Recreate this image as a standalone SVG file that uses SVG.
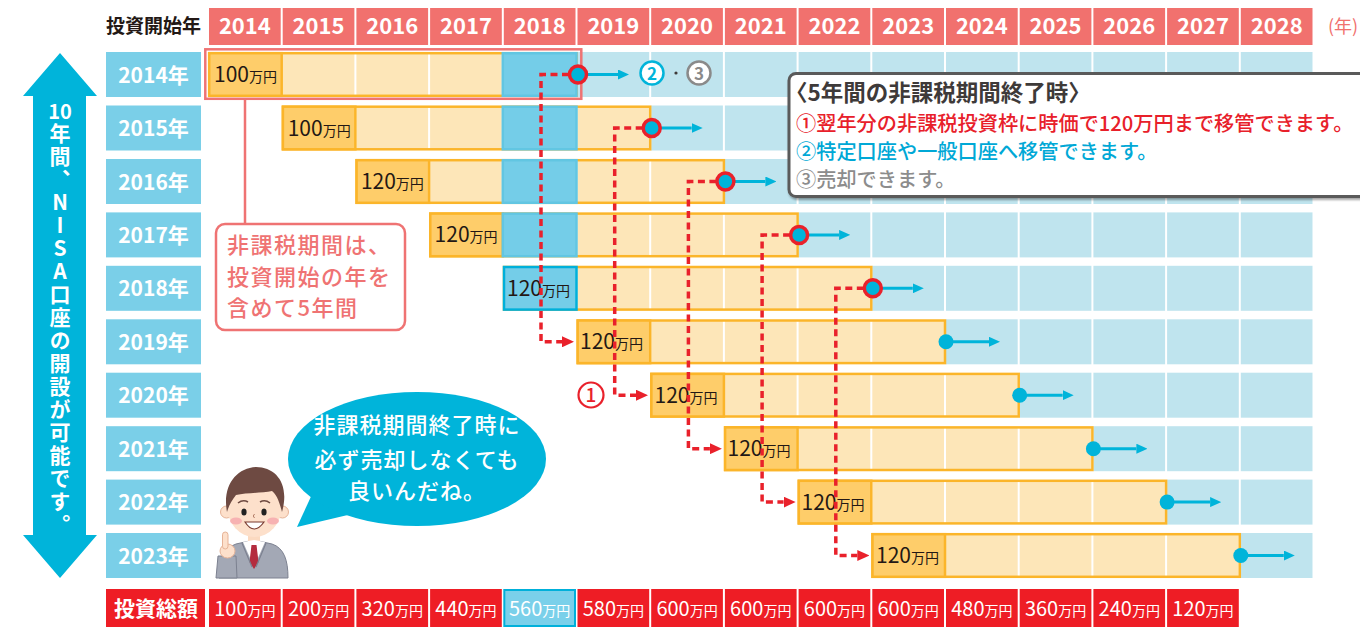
<svg xmlns="http://www.w3.org/2000/svg" width="1360" height="628" viewBox="0 0 1360 628">
<defs>
<style>
text{font-family:"Noto Sans CJK JP","Noto Sans",sans-serif}
.hd{fill:#f1716e}
.hdt{font-size:22px;font-weight:700;fill:#fff;text-anchor:middle}
.rl{fill:#7acfe8}
.rlt{font-size:21px;font-weight:700;fill:#fff;text-anchor:middle}
.bg{fill:url(#bgCells)}
.bar{fill:url(#barCells);stroke:#fbb52a;stroke-width:2.5}
.first{fill:#fecd6a;stroke:#fbb52a;stroke-width:2.5}
.blue{fill:#74cde8;stroke:#62c6e2;stroke-width:2.5}
.blue2{fill:#74cde8;stroke:#00b0da;stroke-width:2.5}
.amt{font-size:21px;fill:#231815}
.unit{font-size:14px}
.tot{fill:#ee1d25}
.tott{font-size:20px;fill:#fff;text-anchor:middle}
.dash{fill:none;stroke:#e9212b;stroke-width:3.5;stroke-dasharray:7 4.5}
.ring{fill:#00b4da;stroke:#e9212b;stroke-width:3.5}
.dot{fill:#00b4da}
.cyl{stroke:#00b4da;stroke-width:3;fill:none}
.vt{font-size:21px;font-weight:700;fill:#fff;writing-mode:vertical-rl;text-orientation:upright;letter-spacing:2px}
.skin{fill:#fde0cb;stroke:#e6b397;stroke-width:1}
.lg{font-size:20.2px;font-weight:500}
</style>
<pattern id="bgCells" patternUnits="userSpaceOnUse" x="207" y="0" width="73.7" height="628">
<rect width="73.7" height="628" fill="#bfe4ee"/>
<rect width="2" height="628" fill="#fff"/>
</pattern>
<pattern id="barCells" patternUnits="userSpaceOnUse" x="207" y="0" width="73.7" height="628">
<rect width="73.7" height="628" fill="#fde6b8"/>
<rect width="2" height="628" fill="#fff"/>
</pattern>
<marker id="redHead" markerUnits="userSpaceOnUse" viewBox="0 0 12 11" markerWidth="12" markerHeight="11" refX="0" refY="5.5" orient="auto">
<path d="M0 0L12 5.5L0 11Z" fill="#e9212b"/>
</marker>
<marker id="cyanHead" markerUnits="userSpaceOnUse" viewBox="0 0 11 10" markerWidth="11" markerHeight="10" refX="0" refY="5" orient="auto">
<path d="M0 0L11 5L0 10Z" fill="#00b4da"/>
</marker>
<filter id="shadow" x="-5%" y="-10%" width="110%" height="130%">
<feDropShadow dx="1" dy="2" stdDeviation="1.2" flood-color="#000" flood-opacity="0.35"/>
</filter>
</defs>

<rect width="1360" height="628" fill="#fff"/>

<!-- year header -->
<g id="header">
<text x="153.5" y="33" font-size="19" font-weight="700" fill="#231815" text-anchor="middle">投資開始年</text>
<rect class="hd" x="209" y="8" width="71.7" height="37"/><text class="hdt" x="244.85" y="34">2014</text>
<rect class="hd" x="282.7" y="8" width="71.7" height="37"/><text class="hdt" x="318.55" y="34">2015</text>
<rect class="hd" x="356.4" y="8" width="71.7" height="37"/><text class="hdt" x="392.25" y="34">2016</text>
<rect class="hd" x="430.1" y="8" width="71.7" height="37"/><text class="hdt" x="465.95" y="34">2017</text>
<rect class="hd" x="503.8" y="8" width="71.7" height="37"/><text class="hdt" x="539.65" y="34">2018</text>
<rect class="hd" x="577.5" y="8" width="71.7" height="37"/><text class="hdt" x="613.35" y="34">2019</text>
<rect class="hd" x="651.2" y="8" width="71.7" height="37"/><text class="hdt" x="687.05" y="34">2020</text>
<rect class="hd" x="724.9" y="8" width="71.7" height="37"/><text class="hdt" x="760.75" y="34">2021</text>
<rect class="hd" x="798.6" y="8" width="71.7" height="37"/><text class="hdt" x="834.45" y="34">2022</text>
<rect class="hd" x="872.3" y="8" width="71.7" height="37"/><text class="hdt" x="908.15" y="34">2023</text>
<rect class="hd" x="946" y="8" width="71.7" height="37"/><text class="hdt" x="981.85" y="34">2024</text>
<rect class="hd" x="1019.7" y="8" width="71.7" height="37"/><text class="hdt" x="1055.55" y="34">2025</text>
<rect class="hd" x="1093.4" y="8" width="71.7" height="37"/><text class="hdt" x="1129.25" y="34">2026</text>
<rect class="hd" x="1167.1" y="8" width="71.7" height="37"/><text class="hdt" x="1202.95" y="34">2027</text>
<rect class="hd" x="1240.8" y="8" width="71.7" height="37"/><text class="hdt" x="1276.65" y="34">2028</text>
<text x="1343" y="33" font-size="18" fill="#f1716e" text-anchor="middle">(年)</text>
</g>

<!-- one row per starting year: label, remaining years, 5-year bar -->
<g id="row-2014">
<rect class="rl" x="106" y="52" width="95" height="45"/><text class="rlt" x="153.5" y="82.5">2014年</text>
<rect class="bg" x="576.5" y="52" width="737" height="45"/>
<rect class="bar" x="209.2" y="53.2" width="367.3" height="42.6"/>
<rect class="first" x="209.2" y="53.2" width="72.5" height="42.6"/>
<rect class="blue" x="502.8" y="53.2" width="73.7" height="42.6"/>
<text class="amt" x="214" y="82">100<tspan class="unit">万円</tspan></text>
</g>
<g id="row-2015">
<rect class="rl" x="106" y="105.5" width="95" height="45"/><text class="rlt" x="153.5" y="136">2015年</text>
<rect class="bg" x="650.2" y="105.5" width="663.3" height="45"/>
<rect class="bar" x="282.9" y="106.7" width="367.3" height="42.6"/>
<rect class="first" x="282.9" y="106.7" width="72.5" height="42.6"/>
<rect class="blue" x="502.8" y="106.7" width="73.7" height="42.6"/>
<text class="amt" x="287.7" y="135.5">100<tspan class="unit">万円</tspan></text>
</g>
<g id="row-2016">
<rect class="rl" x="106" y="159" width="95" height="45"/><text class="rlt" x="153.5" y="189.5">2016年</text>
<rect class="bg" x="723.9" y="159" width="589.6" height="45"/>
<rect class="bar" x="356.6" y="160.2" width="367.3" height="42.6"/>
<rect class="first" x="356.6" y="160.2" width="72.5" height="42.6"/>
<rect class="blue" x="502.8" y="160.2" width="73.7" height="42.6"/>
<text class="amt" x="360.9" y="189">120<tspan class="unit">万円</tspan></text>
</g>
<g id="row-2017">
<rect class="rl" x="106" y="212.4" width="95" height="45"/><text class="rlt" x="153.5" y="242.9">2017年</text>
<rect class="bg" x="797.6" y="212.4" width="515.9" height="45"/>
<rect class="bar" x="430.3" y="213.6" width="367.3" height="42.6"/>
<rect class="first" x="430.3" y="213.6" width="72.5" height="42.6"/>
<rect class="blue" x="502.8" y="213.6" width="73.7" height="42.6"/>
<text class="amt" x="434.6" y="242.4">120<tspan class="unit">万円</tspan></text>
</g>
<g id="row-2018">
<rect class="rl" x="106" y="265.8" width="95" height="45"/><text class="rlt" x="153.5" y="296.3">2018年</text>
<rect class="bg" x="871.3" y="265.8" width="442.2" height="45"/>
<rect class="bar" x="504" y="267" width="367.3" height="42.6"/>
<rect class="blue2" x="504" y="267" width="72.5" height="42.6"/>
<text class="amt" x="507" y="295.8">120<tspan class="unit">万円</tspan></text>
</g>
<g id="row-2019">
<rect class="rl" x="106" y="319.3" width="95" height="45"/><text class="rlt" x="153.5" y="349.8">2019年</text>
<rect class="bg" x="945" y="319.3" width="368.5" height="45"/>
<rect class="bar" x="577.7" y="320.5" width="367.3" height="42.6"/>
<rect class="first" x="577.7" y="320.5" width="72.5" height="42.6"/>
<text class="amt" x="580" y="349.3">120<tspan class="unit">万円</tspan></text>
</g>
<g id="row-2020">
<rect class="rl" x="106" y="372.7" width="95" height="45"/><text class="rlt" x="153.5" y="403.2">2020年</text>
<rect class="bg" x="1018.7" y="372.7" width="294.8" height="45"/>
<rect class="bar" x="651.4" y="373.9" width="367.3" height="42.6"/>
<rect class="first" x="651.4" y="373.9" width="72.5" height="42.6"/>
<text class="amt" x="654.5" y="402.7">120<tspan class="unit">万円</tspan></text>
</g>
<g id="row-2021">
<rect class="rl" x="106" y="426.2" width="95" height="45"/><text class="rlt" x="153.5" y="456.7">2021年</text>
<rect class="bg" x="1092.4" y="426.2" width="221.1" height="45"/>
<rect class="bar" x="725.1" y="427.4" width="367.3" height="42.6"/>
<rect class="first" x="725.1" y="427.4" width="72.5" height="42.6"/>
<text class="amt" x="727.5" y="456.2">120<tspan class="unit">万円</tspan></text>
</g>
<g id="row-2022">
<rect class="rl" x="106" y="479.6" width="95" height="45"/><text class="rlt" x="153.5" y="510.1">2022年</text>
<rect class="bg" x="1166.1" y="479.6" width="147.4" height="45"/>
<rect class="bar" x="798.8" y="480.8" width="367.3" height="42.6"/>
<rect class="first" x="798.8" y="480.8" width="72.5" height="42.6"/>
<text class="amt" x="801.5" y="509.6">120<tspan class="unit">万円</tspan></text>
</g>
<g id="row-2023">
<rect class="rl" x="106" y="533" width="95" height="45"/><text class="rlt" x="153.5" y="563.5">2023年</text>
<rect class="bg" x="1239.8" y="533" width="73.7" height="45"/>
<rect class="bar" x="872.5" y="534.2" width="367.3" height="42.6"/>
<rect class="first" x="872.5" y="534.2" width="72.5" height="42.6"/>
<text class="amt" x="876" y="563">120<tspan class="unit">万円</tspan></text>
</g>

<!-- 5-year note tied to the 2014 row -->
<g id="note-period">
<rect x="205.3" y="49.3" width="376" height="49.5" fill="none" stroke="#ef7373" stroke-width="2.5"/>
<path d="M245 99V224" stroke="#ef7373" stroke-width="2.5"/>
<rect x="216" y="224" width="189" height="106" rx="9" fill="#fff" stroke="#ef7373" stroke-width="2.5"/>
<g font-size="22" font-weight="500" fill="#ef7373" letter-spacing="1.5">
<text x="227" y="253">非課税期間は、</text>
<text x="227" y="285">投資開始の年を</text>
<text x="227" y="316">含めて5年間</text>
</g>
</g>

<!-- rollover paths and end-of-period markers -->
<g id="connectors">
<path class="dash" d="M569 74.5H541V341.8H562" marker-end="url(#redHead)"/>
<path class="dash" d="M642.7 128H614.7V395.2H636" marker-end="url(#redHead)"/>
<path class="dash" d="M716.4 181.5H688.4V448.7H709.9" marker-end="url(#redHead)"/>
<path class="dash" d="M790.1 234.9H762.1V502.1H783.6" marker-end="url(#redHead)"/>
<path class="dash" d="M863.8 288.3H835.8V555.5H857.3" marker-end="url(#redHead)"/>
<path class="cyl" d="M578 74.5H618" marker-end="url(#cyanHead)"/>
<path class="cyl" d="M651.7 128H691.7" marker-end="url(#cyanHead)"/>
<path class="cyl" d="M725.4 181.5H765.4" marker-end="url(#cyanHead)"/>
<path class="cyl" d="M799.1 234.9H839.1" marker-end="url(#cyanHead)"/>
<path class="cyl" d="M872.8 288.3H912.8" marker-end="url(#cyanHead)"/>
<path class="cyl" d="M946 341.8H989" marker-end="url(#cyanHead)"/>
<path class="cyl" d="M1019.7 395.2H1062.7" marker-end="url(#cyanHead)"/>
<path class="cyl" d="M1093.4 448.7H1136.4" marker-end="url(#cyanHead)"/>
<path class="cyl" d="M1167.1 502.1H1210.1" marker-end="url(#cyanHead)"/>
<path class="cyl" d="M1240.8 555.5H1283.8" marker-end="url(#cyanHead)"/>
<circle class="ring" cx="578" cy="74.5" r="8.5"/>
<circle class="ring" cx="651.7" cy="128" r="8.5"/>
<circle class="ring" cx="725.4" cy="181.5" r="8.5"/>
<circle class="ring" cx="799.1" cy="234.9" r="8.5"/>
<circle class="ring" cx="872.8" cy="288.3" r="8.5"/>
<circle class="dot" cx="946" cy="341.8" r="7.5"/>
<circle class="dot" cx="1019.7" cy="395.2" r="7.5"/>
<circle class="dot" cx="1093.4" cy="448.7" r="7.5"/>
<circle class="dot" cx="1167.1" cy="502.1" r="7.5"/>
<circle class="dot" cx="1240.8" cy="555.5" r="7.5"/>
</g>

<g id="mark-1">
<circle cx="591" cy="395" r="12.5" fill="#fff" stroke="#e9212b" stroke-width="2.2"/>
<text x="591" y="402" font-size="19" font-weight="500" fill="#e9212b" text-anchor="middle">1</text>
</g>
<g id="mark-23">
<circle cx="652" cy="73" r="11.5" fill="#fff" stroke="#00b4da" stroke-width="2.5"/>
<text x="652" y="79.5" font-size="17" font-weight="700" fill="#00b4da" text-anchor="middle">2</text>
<circle cx="676" cy="73" r="1.6" fill="#3e3a39"/>
<circle cx="699" cy="73" r="11.5" fill="#fff" stroke="#8a8a8a" stroke-width="2.5"/>
<text x="699" y="79.5" font-size="17" font-weight="700" fill="#8a8a8a" text-anchor="middle">3</text>
</g>

<!-- legend for the end of the tax-free period -->
<g id="legend">
<rect x="789" y="73.5" width="600" height="123" rx="7" fill="#fff" stroke="#5a5a5a" stroke-width="3" filter="url(#shadow)"/>
<text x="785" y="101" font-size="22.5" font-weight="700" fill="#3e3a39">〈5年間の非課税期間終了時〉</text>
<text class="lg" x="796" y="130.5" fill="#e8202a">①翌年分の非課税投資枠に時価で120万円まで移管できます。</text>
<text class="lg" x="796" y="158.5" fill="#00a8d6">②特定口座や一般口座へ移管できます。</text>
<text class="lg" x="796" y="186.5" fill="#8c8c8c">③売却できます。</text>
</g>

<!-- 10-year span arrow -->
<g id="span-arrow">
<path d="M60 53L97 96H86V535H97L60 578L23 535H33V96H23Z" fill="#00b4da"/>
<text x="60" y="118.5" font-size="20" font-weight="700" fill="#fff" text-anchor="middle">10</text>
<text class="vt" x="60" y="123">年間、NISA口座の開設が可能です。</text>
</g>

<!-- speech bubble -->
<g id="bubble">
<path d="M314 490L297 527L352 514Z" fill="#00b4da"/>
<ellipse cx="417" cy="459" rx="129" ry="67" fill="#00b4da"/>
<g font-size="22" font-weight="500" fill="#fff" text-anchor="middle" letter-spacing="1">
<text x="417" y="433">非課税期間終了時に</text>
<text x="417" y="468">必ず売却しなくても</text>
<text x="417" y="499">良いんだね。</text>
</g>
</g>

<!-- presenter figure -->
<g id="person">
<path d="M219 578C219 560 224 548 236 544L254 540L272 544C284 548 288 560 288 578Z" fill="#a3a8b5" stroke="#7c8190" stroke-width="1"/>
<rect x="248" y="528" width="12" height="14" fill="#fbd9c0"/>
<path d="M243 542L254 540L265 542L254 567Z" fill="#fff"/>
<path d="M251.5 545L256.5 545L258.5 562L254 569L249.5 562Z" fill="#b42c3e"/>
<path d="M242 543L252 567M266 543L256 567" stroke="#7c8190" stroke-width="1.2" fill="none"/>
<path d="M216 578L218 556L236 556L237 578Z" fill="#a3a8b5" stroke="#7c8190" stroke-width="1"/>
<ellipse class="skin" cx="227.5" cy="551" rx="7.5" ry="7"/>
<rect class="skin" x="222.5" y="532" width="5.5" height="17" rx="2.75"/>
<circle class="skin" cx="226.5" cy="512" r="6"/>
<circle class="skin" cx="282.5" cy="512" r="6"/>
<ellipse cx="254.5" cy="507" rx="27" ry="30" fill="#fde0cb"/>
<path d="M227 512C222 486 236 468 256 467C276 467 290 484 282 512C279 500 276 494 272 491C262 493 246 493 236 495C232 500 229 505 227 512Z" fill="#6e4a42"/>
<path d="M238 503Q243 499 248 502M260 502Q265 499 270 503" stroke="#6e4a42" stroke-width="1.6" fill="none"/>
<ellipse cx="244" cy="512" rx="2.6" ry="3.6" fill="#222"/>
<ellipse cx="264" cy="512" rx="2.6" ry="3.6" fill="#222"/>
<path d="M254.5 514q-2.5 2 0 4" stroke="#b07a64" stroke-width="1" fill="none"/>
<ellipse cx="236" cy="521" rx="6" ry="3.5" fill="#f6a9ae" opacity="0.85"/>
<ellipse cx="273" cy="521" rx="6" ry="3.5" fill="#f6a9ae" opacity="0.85"/>
<path d="M245 522Q254 536 264 522Z" fill="#fff" stroke="#7a3b30" stroke-width="1.2"/>
</g>

<!-- cumulative investment row -->
<g id="totals">
<rect class="tot" x="106" y="589" width="99" height="38"/>
<text x="156" y="616" font-size="21" font-weight="700" fill="#fff" text-anchor="middle">投資総額</text>
<rect class="tot" x="209" y="589" width="71.7" height="38"/><text class="tott" x="244.85" y="616">100<tspan class="unit">万円</tspan></text>
<rect class="tot" x="282.7" y="589" width="71.7" height="38"/><text class="tott" x="318.55" y="616">200<tspan class="unit">万円</tspan></text>
<rect class="tot" x="356.4" y="589" width="71.7" height="38"/><text class="tott" x="392.25" y="616">320<tspan class="unit">万円</tspan></text>
<rect class="tot" x="430.1" y="589" width="71.7" height="38"/><text class="tott" x="465.95" y="616">440<tspan class="unit">万円</tspan></text>
<rect x="504.3" y="590" width="70.7" height="36" fill="#7ad0ea" stroke="#00b0da" stroke-width="2"/><text class="tott" x="539.65" y="616">560<tspan class="unit">万円</tspan></text>
<rect class="tot" x="577.5" y="589" width="71.7" height="38"/><text class="tott" x="613.35" y="616">580<tspan class="unit">万円</tspan></text>
<rect class="tot" x="651.2" y="589" width="71.7" height="38"/><text class="tott" x="687.05" y="616">600<tspan class="unit">万円</tspan></text>
<rect class="tot" x="724.9" y="589" width="71.7" height="38"/><text class="tott" x="760.75" y="616">600<tspan class="unit">万円</tspan></text>
<rect class="tot" x="798.6" y="589" width="71.7" height="38"/><text class="tott" x="834.45" y="616">600<tspan class="unit">万円</tspan></text>
<rect class="tot" x="872.3" y="589" width="71.7" height="38"/><text class="tott" x="908.15" y="616">600<tspan class="unit">万円</tspan></text>
<rect class="tot" x="946" y="589" width="71.7" height="38"/><text class="tott" x="981.85" y="616">480<tspan class="unit">万円</tspan></text>
<rect class="tot" x="1019.7" y="589" width="71.7" height="38"/><text class="tott" x="1055.55" y="616">360<tspan class="unit">万円</tspan></text>
<rect class="tot" x="1093.4" y="589" width="71.7" height="38"/><text class="tott" x="1129.25" y="616">240<tspan class="unit">万円</tspan></text>
<rect class="tot" x="1167.1" y="589" width="71.7" height="38"/><text class="tott" x="1202.95" y="616">120<tspan class="unit">万円</tspan></text>
</g>
</svg>
